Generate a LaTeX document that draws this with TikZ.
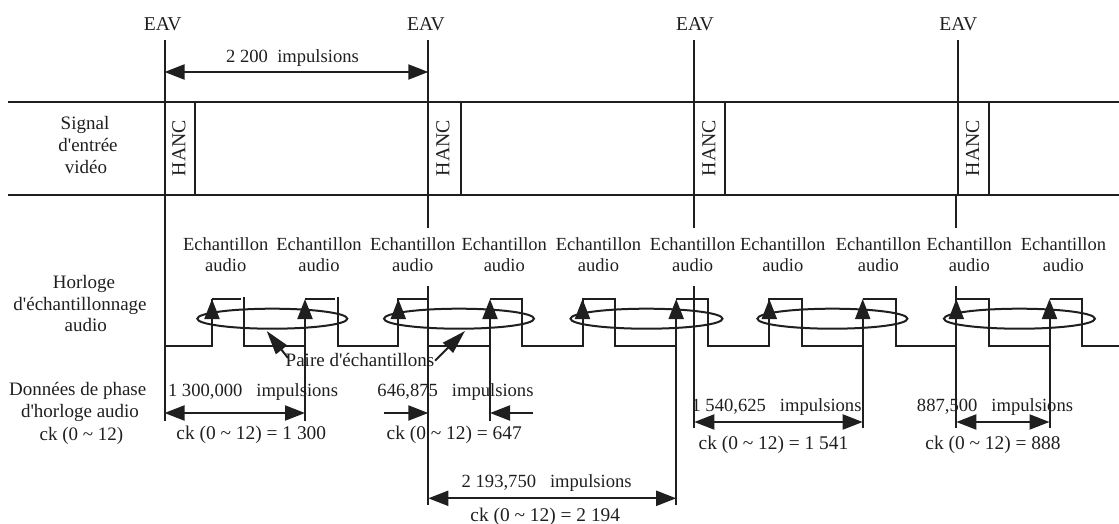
\documentclass[tikz,border=0pt]{standalone}
\usepackage{fontspec}
\setmainfont{Liberation Serif}
\usetikzlibrary{arrows.meta}
\definecolor{ink}{HTML}{1F1F1F}
\newcommand{\apos}{\textquotesingle}
\newcommand{\tld}{\textasciitilde}
\tikzset{
  x=1pt,y=-1pt,
  every node/.style={inner sep=0pt,outer sep=0pt,text=ink,font=\fontsize{19}{21}\selectfont},
  lab/.style={anchor=base},
  sampletext/.style={lab,font=\fontsize{18.5}{21}\selectfont},
  pulsetext/.style={lab,font=\fontsize{18.6}{21}\selectfont},
  cktext/.style={lab,font=\fontsize{19.4}{21}\selectfont},
  eavtext/.style={lab,font=\fontsize{19.6}{21}\selectfont},
  hanctext/.style={rotate=90,font=\fontsize{19.8}{21}\selectfont},
  ln/.style={draw=ink,line width=2pt},
  dim/.style={ln,{Triangle[length=20pt,width=15pt]}-{Triangle[length=20pt,width=15pt]}},
  oneway/.style={ln,-{Triangle[length=20pt,width=15pt]}},
  pairarrow/.style={ln,-{Triangle[length=24pt,width=14pt]}},
  pairring/.style={ln,fill=none},
}
\begin{document}
\begin{tikzpicture}
\useasboundingbox (0,0) rectangle (1119,524);
% row rules
\draw[ln] (8,102.3) -- (1119,102.3);
\draw[ln] (8,195) -- (1119,195);
% EAV labels and lines
\foreach \n/\lx/\x/\lowx/\y in {a/162.7/164.5/164.5/421,b/426/428.3/428.3/228,c/695/694.3/694.3/228,d/958.3/958.3/956.3/228}{
  \node[eavtext] (eav\n) at (\lx,31) {EAV};
  \draw[ln] (\x,40) -- (\x,195);
  \draw[ln] (\lowx,195) -- (\lowx,\y);
}
\foreach \x/\y in {428.3/505,694.3/428,956.3/428}{
  \draw[ln] (\x,286) -- (\x,\y);
}
% HANC
\foreach \x/\r in {179/195,443/461,709/725,972.7/989}{
  \node[hanctext] at (\x,148) {HANC};
  \draw[ln] (\r,102.3) -- (\r,195);
}
% top dimension
\coordinate (t1) at (164.5,72);
\coordinate (t2) at (428.3,72);
\draw[dim] (t1) -- (t2);
\node[pulsetext] at (292.5,63) {2 200\ \ impulsions};
% left labels
\node[lab] at (85,130) {Signal};
\node[lab] at (88,151.7) {d\apos entrée};
\node[lab] at (86,173) {vidéo};
\node[lab] at (84,288) {Horloge};
\node[lab] at (80,310.7) {d\apos échantillonnage};
\node[lab] at (85.7,331.7) {audio};
\node[lab] at (77.7,395) {Données de phase};
\node[lab] at (80,417) {d\apos horloge audio};
\node[lab] at (81.5,440.7) {ck (0 \tld{} 12)};
% Echantillon labels
\foreach \x in {225.7,319,412.7,504.3,598.5,692.6,782.8,878.4,969.3,1063.4}{
  \node[sampletext] at (\x,250.7) {Echantillon};
  \node[sampletext] at (\x,271.7) {audio};
}
% clock
\draw[ln] (165,345.7) -- (212,345.7) -- (212,299);
\draw[ln] (212,299) -- (241,299);
\draw[ln] (244.3,297) -- (244.3,345.7) -- (305,345.7);
\draw[ln] (305,299) -- (335,299);
\draw[ln] (338,297) -- (338,345.7) -- (398.3,345.7) -- (398.3,299) -- (428.3,299);
\draw[ln] (428.3,345.7) -- (490,345.7);
\draw[ln] (490,299) -- (521.7,299) -- (521.7,345.7) -- (582.5,345.7) -- (582.5,299) -- (615.3,299) -- (615.3,345.7) -- (676.2,345.7);
\draw[ln] (676.2,299) -- (708.3,299) -- (708.3,345.7) -- (769.3,345.7) -- (769.3,299) -- (802,299) -- (802,345.7) -- (862.7,345.7);
\draw[ln] (862.7,299) -- (895.5,299) -- (895.5,345.7) -- (956.3,345.7);
\draw[ln] (956.3,299) -- (988.5,299) -- (988.5,345.7) -- (1049.5,345.7);
\draw[ln] (1049.5,299) -- (1082,299) -- (1082,345.7) -- (1119,345.7);
% sample arrows
\foreach \x/\y in {212/345.7,305/421,398.3/345.7,490/421,582.5/345.7,676.2/505,769.3/345.7,862.7/428,956.3/345.7,1049.5/428}{
  \coordinate (s) at (\x,\y);
  \coordinate (h) at (\x,299);
  \draw[oneway] (s) -- (h);
}
% rings
\foreach \x/\r in {272.3/75,459/75,646.5/76,832.4/75,1019.4/75.5}{
  \draw[pairring] (\x,318.7) ellipse [x radius=\r,y radius=10];
}
% pair label
\node[lab] (paire) at (360,366.7) {Paire d\apos échantillons};
\coordinate (pl0) at (288,358);
\coordinate (pl1) at (266.7,331);
\coordinate (pr0) at (435,360.7);
\coordinate (pr1) at (465,331);
\draw[pairarrow] (pl0) -- (pl1);
\draw[pairarrow] (pr0) -- (pr1);
% bottom dimension texts
\node[pulsetext] at (253,396.7) {1 300,000\ \ \ impulsions};
\node[pulsetext] at (455.5,396.7) {646,875\ \ \ impulsions};
\node[pulsetext] at (776.5,411) {1 540,625\ \ \ impulsions};
\node[pulsetext] at (995,411) {887,500\ \ \ impulsions};
\node[pulsetext] at (546.7,487) {2 193,750\ \ \ impulsions};
\node[cktext] at (251.3,439) {ck (0 \tld{} 12) = 1 300};
\node[cktext] at (454.2,439) {ck (0 \tld{} 12) = 647};
\node[cktext] at (773.5,449) {ck (0 \tld{} 12) = 1 541};
\node[cktext] at (993,449) {ck (0 \tld{} 12) = 888};
\node[cktext] at (545.3,521.7) {ck (0 \tld{} 12) = 2 194};
% bottom arrows
\coordinate (d1a) at (164.5,413); \coordinate (d1b) at (305,413);
\draw[dim] (d1a) -- (d1b);
\coordinate (d2a) at (384,413); \coordinate (d2b) at (428.3,413);
\draw[oneway] (d2a) -- (d2b);
\coordinate (d3a) at (533,413); \coordinate (d3b) at (490,413);
\draw[oneway] (d3a) -- (d3b);
\coordinate (d4a) at (694.3,422); \coordinate (d4b) at (862.7,422);
\draw[dim] (d4a) -- (d4b);
\coordinate (d5a) at (956.3,422); \coordinate (d5b) at (1049.5,422);
\draw[dim] (d5a) -- (d5b);
\coordinate (d6a) at (428.3,498.3); \coordinate (d6b) at (676.2,498.3);
\draw[dim] (d6a) -- (d6b);
\end{tikzpicture}
\end{document}
